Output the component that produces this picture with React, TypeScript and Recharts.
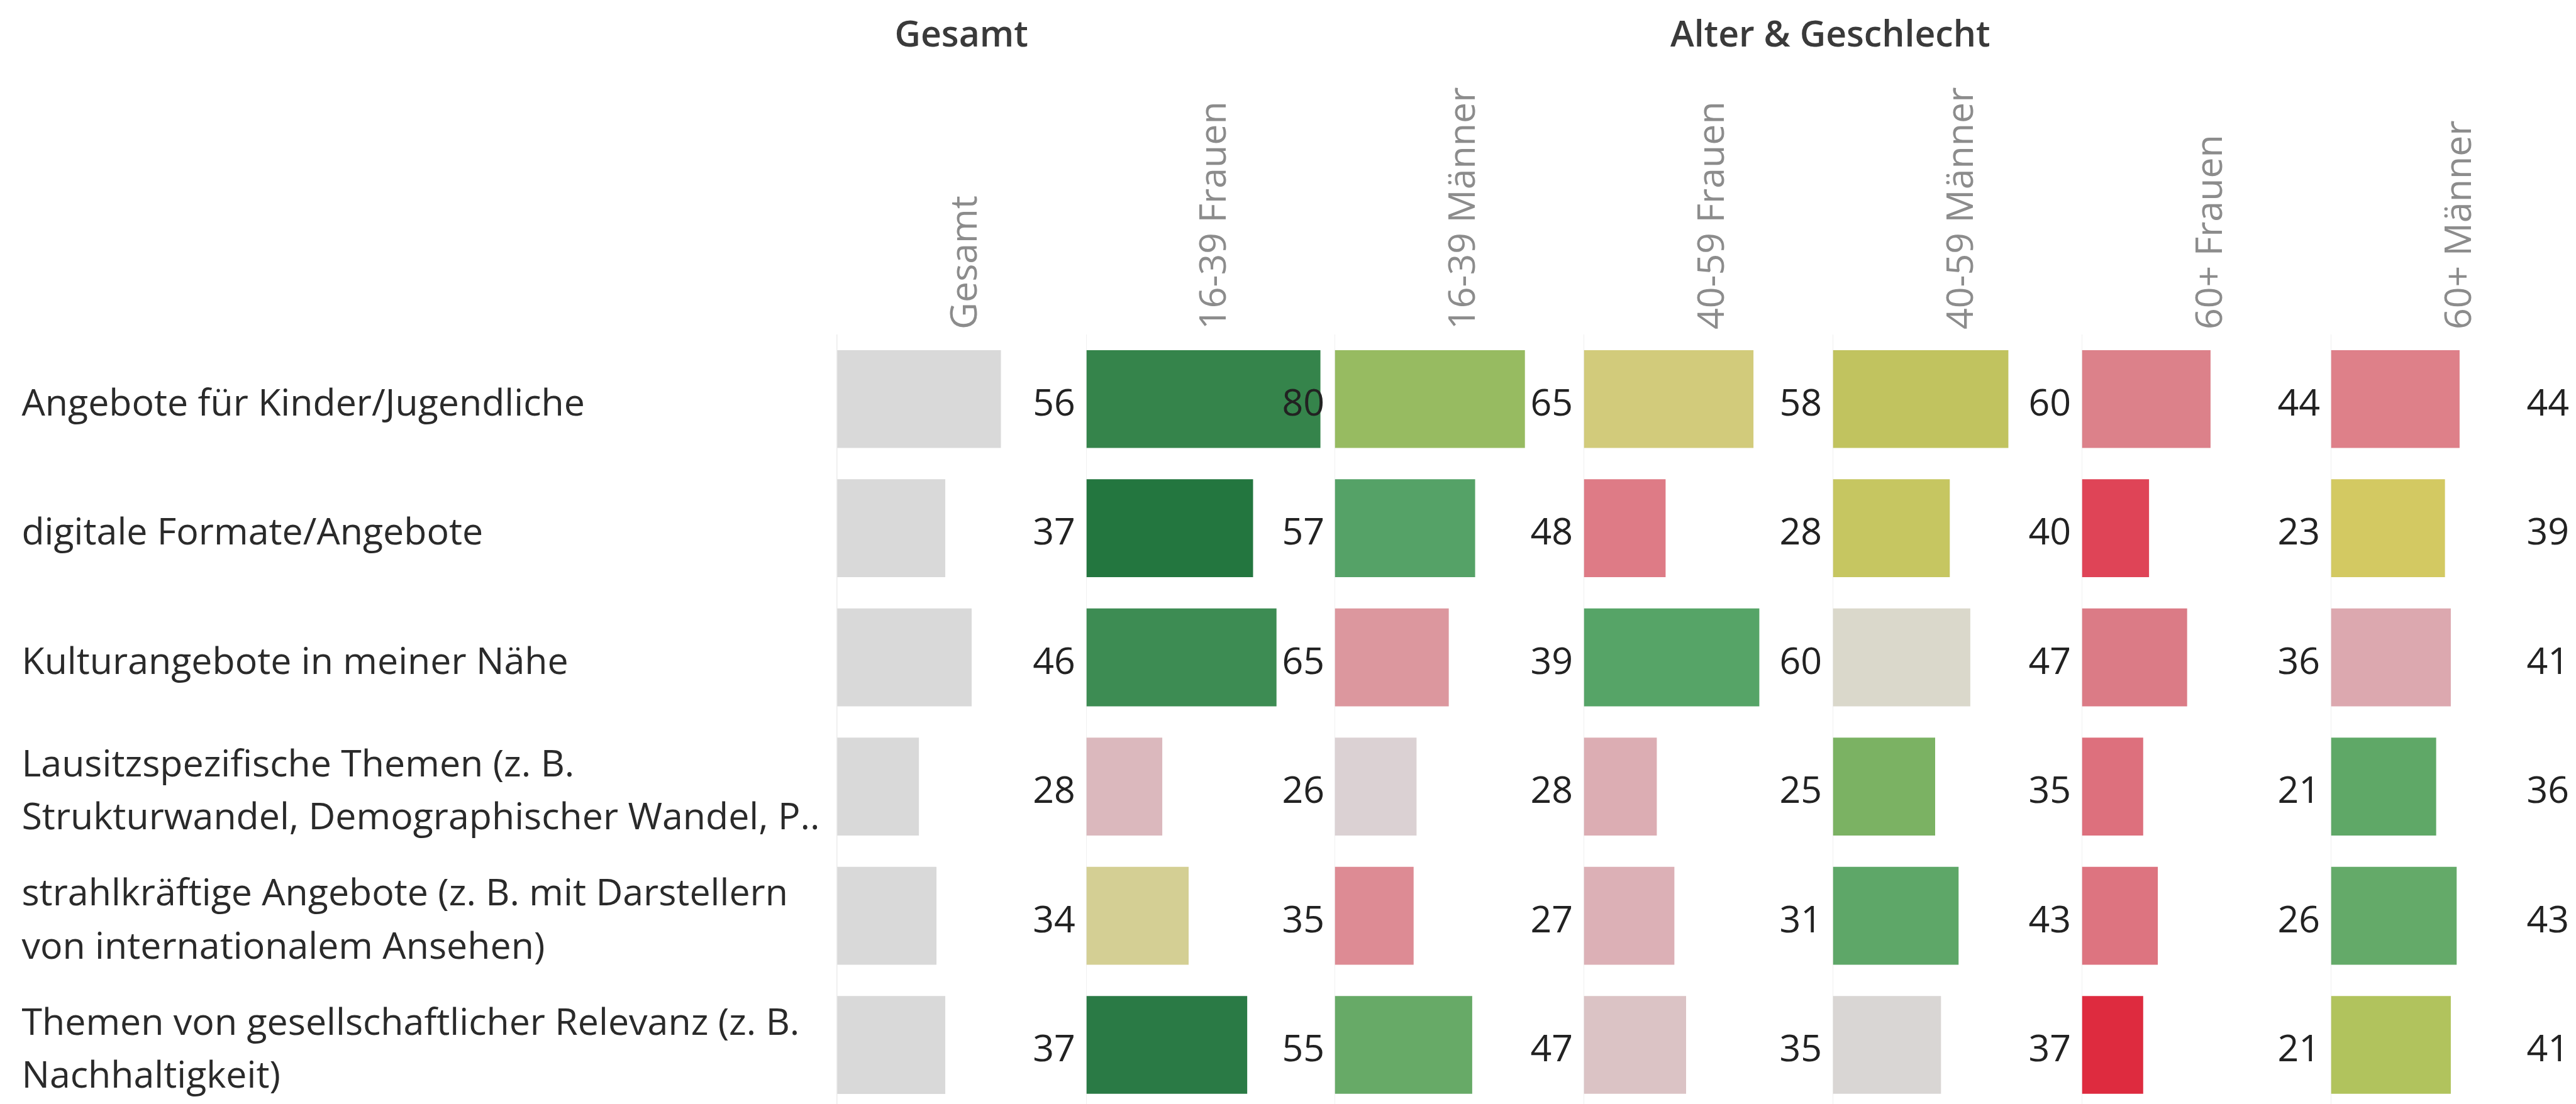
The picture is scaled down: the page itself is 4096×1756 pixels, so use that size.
import React from 'react';
import { BarChart, Bar, XAxis, YAxis, Cell, LabelList, ReferenceLine } from 'recharts';

// rows (labels wrap on \n like the original)
const categories = [
  'Angebote für Kinder/Jugendliche',
  'digitale Formate/Angebote',
  'Kulturangebote in meiner Nähe',
  'Lausitzspezifische Themen (z. B.\nStrukturwandel, Demographischer Wandel, P..',
  'strahlkräftige Angebote (z. B. mit Darstellern\nvon internationalem Ansehen)',
  'Themen von gesellschaftlicher Relevanz (z. B.\nNachhaltigkeit)',
];

const groups = ['Gesamt', '16-39 Frauen', '16-39 Männer', '40-59 Frauen', '40-59 Männer', '60+ Frauen', '60+ Männer'];

const gesamt = [56, 37, 46, 28, 34, 37];
const frauen1639 = [80, 57, 65, 26, 35, 55];
const maenner1639 = [65, 48, 39, 28, 27, 47];
const frauen4059 = [58, 28, 60, 25, 31, 35];
const maenner4059 = [60, 40, 47, 35, 43, 37];
const frauen60 = [44, 23, 36, 21, 26, 21];
const maenner60 = [44, 39, 41, 36, 43, 41];

const gesamtColors = ['#d9d9d9', '#d9d9d9', '#d9d9d9', '#d9d9d9', '#d9d9d9', '#d9d9d9'];
const frauen1639Colors = ['#35844b', '#23763f', '#3d8c53', '#dbb8bd', '#d4cf94', '#2a7a45'];
const maenner1639Colors = ['#97bb61', '#55a267', '#dc979e', '#dbd1d3', '#dd8b94', '#67aa67'];
const frauen4059Colors = ['#d2cb7b', '#de7b86', '#56a467', '#dcadb3', '#dcb0b6', '#dbc3c5'];
const maenner4059Colors = ['#c1c35f', '#c6c661', '#dad8cb', '#7bb263', '#5ea768', '#d9d6d4'];
const frauen60Colors = ['#dc818a', '#df4457', '#db7b86', '#dd707d', '#dd7480', '#de2b3f'];
const maenner60Colors = ['#de8089', '#d3c962', '#dca8af', '#5fa867', '#64aa69', '#b1c35d'];

const seriesValues = [gesamt, frauen1639, maenner1639, frauen4059, maenner4059, frauen60, maenner60];
const seriesColors = [gesamtColors, frauen1639Colors, maenner1639Colors, frauen4059Colors, maenner4059Colors, frauen60Colors, maenner60Colors];

const S = 0.985;
const FONT = "'Open Sans', sans-serif";
const FS = 60 * S;
const PANEL_LEFT = 1351 * S;
const PANEL_W = 401.9 * S;
const PLOT_TOP = 540 * S;
const ROW_H = 208.6 * S;
const BAR_H = 158 * S;
const CHART_H = PLOT_TOP + ROW_H * categories.length;

function RowTick(props: any) {
  const { y, payload } = props;
  const lines = String(payload.value).split('\n');
  const lh = 86 * S;
  const first = -((lines.length - 1) * lh) / 2;
  return (
    <g>
      {lines.map((l, i) => (
        <text key={i} x={35 * S} y={y + first + i * lh + 3 * S} textAnchor="start" dominantBaseline="central"
          fontFamily={FONT} fontSize={FS} fill="#2a2a2a">{l}</text>
      ))}
    </g>
  );
}

function ValueLabel(props: any) {
  const { x, y, height, value } = props;
  return (
    <text x={x + PANEL_W - 17 * S} y={y + height / 2 + 3 * S} textAnchor="end" dominantBaseline="central"
      fontFamily={FONT} fontSize={FS} fill="#222">{value}</text>
  );
}

function Panel({ idx }: { idx: number }) {
  const first = idx === 0;
  const data = categories.map((c, i) => ({ cat: c, value: seriesValues[idx][i] }));
  const colors = seriesColors[idx];
  const width = first ? PANEL_LEFT + PANEL_W : PANEL_W;
  return (
    <div style={{ position: 'absolute', top: 0, left: first ? 0 : PANEL_LEFT + idx * PANEL_W }}>
      <BarChart layout="vertical" data={data} width={width} height={CHART_H}
        margin={{ top: PLOT_TOP, right: 0, bottom: 0, left: 0 }}>
        <XAxis type="number" domain={[0, 85]} hide />
        <YAxis type="category" dataKey="cat" hide={!first} width={first ? PANEL_LEFT : 0}
          axisLine={false} tickLine={false} interval={0} tick={<RowTick />} />
        <ReferenceLine x={0} stroke="#ebebeb" strokeWidth={1.5} />
        <Bar dataKey="value" barSize={BAR_H} isAnimationActive={false}>
          {data.map((_, i) => (
            <Cell key={`cell-${i}`} fill={colors[i]} />
          ))}
          <LabelList dataKey="value" content={<ValueLabel />} />
        </Bar>
      </BarChart>
    </div>
  );
}

export default function App() {
  const centers = groups.map((_, i) => PANEL_LEFT + (i + 0.5) * PANEL_W);
  const altCenter = PANEL_LEFT + PANEL_W + (6 * PANEL_W) / 2;
  return (
    <div style={{ position: 'fixed', top: 0, left: 0, width: 4096, height: 1756, overflow: 'hidden', background: '#fff' }}>
      {groups.map((_, i) => <Panel key={i} idx={i} />)}
      <svg width={4096} height={1756} style={{ position: 'absolute', top: 0, left: 0, pointerEvents: 'none' }}>
        <text x={centers[0]} y={75 * S} textAnchor="middle" fontFamily={FONT} fontSize={58 * S} fontWeight={600} fill="#3a3a3a">Gesamt</text>
        <text x={altCenter - 4 * S} y={75 * S} textAnchor="middle" fontFamily={FONT} fontSize={58 * S} fontWeight={600} fill="#3a3a3a">Alter &amp; Geschlecht</text>
        {groups.map((g, i) => (
          <text key={g} transform={`translate(${centers[i] + 25 * S}, ${532 * S}) rotate(-90)`} x={0} y={0}
            textAnchor="start" fontFamily={FONT} fontSize={FS} fill="#8c8c8c">{g}</text>
        ))}
      </svg>
    </div>
  );
}
